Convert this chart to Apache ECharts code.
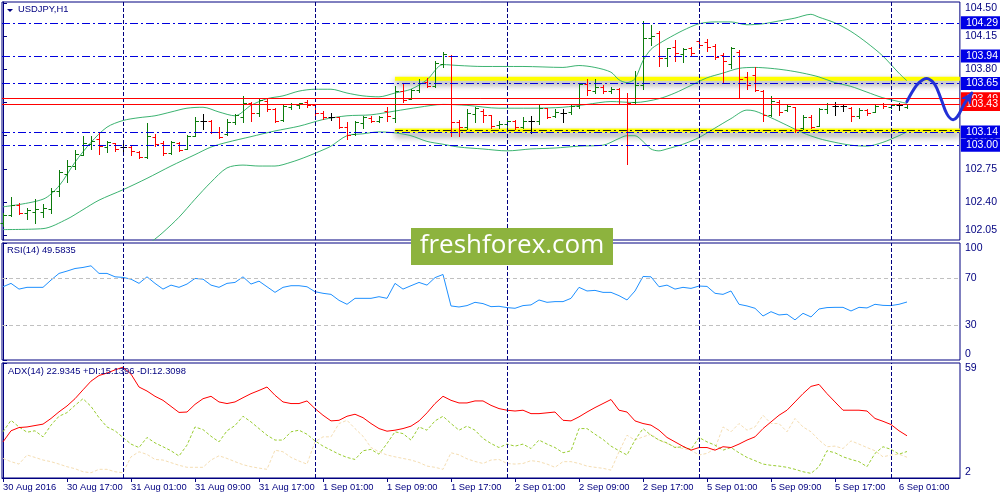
<!DOCTYPE html>
<html>
<head>
<meta charset="utf-8">
<script src="https://cdn.jsdelivr.net/npm/echarts@6/dist/echarts.min.js"></script>
<style>
html, body { margin: 0; padding: 0; background: #fff; }
#chart { width: 1000px; height: 500px; }
</style>
</head>
<body>
<div id="chart"></div>
<script>
// USDJPY H1, 30 Aug 2016 09:00 .. 6 Sep 2016 02:00 (one value per hourly bar)
const opens = [
	102.18, 102.26, 102.37, 102.28, 102.30, 102.30, 102.33, 102.52, 102.70, 102.78,
	102.90, 103.01, 103.07, 102.98, 103.02, 102.98, 102.98, 102.93, 102.88, 103.09,
	103.02, 102.92, 103.02, 102.96, 103.10, 103.26, 103.25, 103.14, 103.12, 103.24,
	103.30, 103.45, 103.34, 103.47, 103.38, 103.27, 103.40, 103.42, 103.46, 103.42,
	103.34, 103.30, 103.30, 103.19, 103.12, 103.23, 103.29, 103.26, 103.36, 103.29,
	103.57, 103.49, 103.58, 103.67, 103.62, 103.86, 103.94, 103.24, 103.19, 103.33,
	103.36, 103.32, 103.21, 103.22, 103.25, 103.19, 103.25, 103.25, 103.39, 103.31,
	103.34, 103.35, 103.41, 103.65, 103.57, 103.61, 103.57, 103.59, 103.50, 103.46,
	103.63, 104.13, 104.18, 103.92, 104.04, 103.96, 104.02, 104.10, 104.09, 104.05,
	103.95, 103.86, 103.98, 103.72, 103.74, 103.57, 103.32, 103.46, 103.37, 103.40,
	103.18, 103.30, 103.20, 103.38, 103.41, 103.41, 103.39, 103.31, 103.37, 103.35,
	103.43, 103.40, 103.42, 103.40
]
const highs = [
	102.29, 102.45, 102.39, 102.34, 102.43, 102.38, 102.55, 102.74, 102.84, 102.95,
	103.10, 103.10, 103.13, 103.04, 103.02, 103.03, 103.00, 102.94, 103.23, 103.12,
	103.04, 103.04, 103.03, 103.11, 103.30, 103.33, 103.27, 103.19, 103.28, 103.33,
	103.52, 103.46, 103.49, 103.49, 103.39, 103.42, 103.44, 103.45, 103.48, 103.42,
	103.36, 103.34, 103.30, 103.24, 103.25, 103.31, 103.31, 103.31, 103.40, 103.62,
	103.64, 103.59, 103.70, 103.71, 103.89, 103.98, 103.95, 103.27, 103.38, 103.40,
	103.38, 103.32, 103.25, 103.27, 103.27, 103.30, 103.31, 103.43, 103.39, 103.38,
	103.38, 103.42, 103.66, 103.70, 103.70, 103.63, 103.61, 103.60, 103.55, 103.78,
	104.31, 104.27, 104.20, 104.03, 104.11, 104.03, 104.04, 104.13, 104.12, 104.07,
	103.97, 104.04, 104.00, 103.77, 103.82, 103.58, 103.52, 103.48, 103.43, 103.40,
	103.32, 103.32, 103.39, 103.45, 103.46, 103.43, 103.40, 103.39, 103.38, 103.42,
	103.45, 103.43, 103.44, 103.43
]
const lows = [
	102.15, 102.25, 102.27, 102.22, 102.18, 102.24, 102.29, 102.46, 102.61, 102.75,
	102.90, 102.96, 102.91, 102.93, 102.94, 102.94, 102.90, 102.86, 102.86, 102.99,
	102.90, 102.91, 102.94, 102.96, 103.10, 103.17, 103.13, 103.08, 103.11, 103.22,
	103.24, 103.25, 103.31, 103.36, 103.24, 103.26, 103.38, 103.39, 103.40, 103.30,
	103.28, 103.27, 103.18, 103.06, 103.11, 103.18, 103.24, 103.24, 103.25, 103.24,
	103.46, 103.49, 103.56, 103.61, 103.61, 103.82, 103.10, 103.10, 103.17, 103.24,
	103.24, 103.18, 103.18, 103.17, 103.17, 103.18, 103.13, 103.22, 103.29, 103.30,
	103.24, 103.33, 103.39, 103.53, 103.55, 103.55, 103.55, 103.44, 102.80, 103.45,
	103.59, 104.06, 103.83, 103.83, 103.89, 103.88, 103.94, 104.03, 103.99, 103.91,
	103.67, 103.81, 103.51, 103.59, 103.57, 103.26, 103.31, 103.32, 103.36, 103.14,
	103.17, 103.18, 103.20, 103.34, 103.32, 103.36, 103.26, 103.29, 103.32, 103.35,
	103.39, 103.39, 103.37, 103.39
]
const closes = [
	102.26, 102.37, 102.28, 102.32, 102.33, 102.34, 102.52, 102.72, 102.78, 102.91,
	103.02, 103.04, 102.99, 103.03, 102.96, 102.98, 102.94, 102.88, 103.10, 103.01,
	102.92, 103.03, 102.95, 103.10, 103.25, 103.26, 103.14, 103.09, 103.24, 103.32,
	103.45, 103.34, 103.48, 103.38, 103.26, 103.41, 103.43, 103.45, 103.42, 103.34,
	103.30, 103.30, 103.19, 103.11, 103.24, 103.30, 103.25, 103.30, 103.31, 103.57,
	103.48, 103.58, 103.66, 103.62, 103.87, 103.96, 103.24, 103.19, 103.34, 103.39,
	103.32, 103.20, 103.22, 103.25, 103.19, 103.26, 103.25, 103.39, 103.30, 103.35,
	103.34, 103.41, 103.65, 103.58, 103.61, 103.57, 103.59, 103.50, 103.45, 103.63,
	104.13, 104.15, 103.92, 104.02, 103.97, 104.01, 103.97, 104.06, 104.04, 103.93,
	103.89, 104.02, 103.70, 103.63, 103.58, 103.32, 103.47, 103.35, 103.41, 103.16,
	103.30, 103.19, 103.38, 103.43, 103.41, 103.41, 103.31, 103.37, 103.34, 103.41,
	103.41, 103.42, 103.42, 103.43
]

// Bollinger bands: [bar, price]
const bbUpper = [
	[0, 102.35], [5, 102.43], [7, 102.57], [9, 102.82], [11, 103.03], [13, 103.19], [15, 103.26],
	[17, 103.29], [19, 103.31], [21, 103.35], [23, 103.39], [25, 103.40], [27, 103.35], [29, 103.31],
	[31, 103.42], [33, 103.49], [35, 103.52], [37, 103.57], [39, 103.59], [41, 103.59], [43, 103.55],
	[45, 103.52], [47, 103.51], [49, 103.55], [51, 103.59], [53, 103.69], [55, 103.85], [57, 103.84],
	[60, 103.83], [65, 103.83], [70, 103.82], [72, 103.84], [74, 103.82], [76, 103.77], [77, 103.69],
	[78, 103.66], [79, 103.70], [80, 103.89], [81, 104.01], [82, 104.07], [83, 104.12], [85, 104.21],
	[87, 104.28], [89, 104.30], [91, 104.30], [93, 104.27], [95, 104.28], [97, 104.31], [99, 104.34],
	[101, 104.38], [102, 104.35], [104, 104.29], [106, 104.20], [108, 104.08], [110, 103.94],
	[112, 103.76], [113, 103.68]
]
const bbMiddle = [
	[0, 102.11], [5, 102.12], [8, 102.22], [10, 102.32], [12, 102.42], [15, 102.53], [18, 102.65],
	[21, 102.78], [24, 102.90], [26, 102.98], [28, 103.03], [31, 103.09], [34, 103.15], [37, 103.20],
	[40, 103.27], [43, 103.31], [46, 103.32], [49, 103.36], [52, 103.40], [55, 103.43], [58, 103.42],
	[62, 103.39], [66, 103.39], [70, 103.40], [73, 103.43], [76, 103.46], [79, 103.45], [82, 103.49],
	[84, 103.55], [86, 103.63], [88, 103.71], [90, 103.76], [92, 103.81], [94, 103.82], [96, 103.81],
	[98, 103.79], [100, 103.76], [102, 103.72], [104, 103.66], [106, 103.62], [108, 103.56],
	[110, 103.50], [112, 103.46], [113, 103.44]
]
const bbLower = [
	[17, 101.88], [19, 102.01], [20, 102.08], [22, 102.24], [24, 102.43], [26, 102.61], [28, 102.76],
	[30, 102.79], [32, 102.78], [34, 102.78], [36, 102.82], [38, 102.88], [40, 102.95], [41, 102.99],
	[43, 103.10], [45, 103.12], [47, 103.14], [49, 103.13], [51, 103.10], [53, 103.04], [55, 103.01],
	[57, 102.98], [60, 102.96], [63, 102.94], [66, 102.96], [69, 102.97], [72, 102.99], [75, 103.00],
	[77, 103.07], [78, 103.10], [79, 103.10], [80, 103.04], [81, 102.96], [82, 102.94], [83, 102.96],
	[85, 103.01], [87, 103.08], [89, 103.18], [91, 103.28], [93, 103.37], [94, 103.36], [96, 103.29],
	[98, 103.21], [100, 103.13], [102, 103.07], [104, 103.03], [106, 103.00], [108, 102.99],
	[110, 103.03], [112, 103.10], [113, 103.14]
]

const rsi = [
	62.6, 65.5, 60.6, 62.1, 62.1, 62.1, 68.3, 74.0, 76.0, 78.2,
	79.1, 80.5, 74.0, 74.0, 71.1, 70.6, 69.1, 65.5, 71.1, 65.5,
	60.6, 64.0, 62.1, 64.9, 69.7, 69.1, 64.0, 62.1, 65.5, 66.3,
	71.1, 64.9, 67.4, 62.6, 57.8, 62.1, 63.5, 63.5, 62.6, 58.4,
	57.0, 56.1, 51.0, 47.6, 52.7, 52.7, 52.7, 54.1, 52.7, 65.5,
	60.6, 63.5, 66.3, 64.0, 70.4, 73.1, 46.2, 45.3, 46.5, 49.3,
	48.2, 45.6, 45.9, 44.8, 44.2, 46.5, 47.1, 51.3, 49.3, 49.9,
	49.9, 52.7, 62.1, 59.0, 59.5, 57.8, 57.8, 55.0, 51.3, 59.0,
	71.4, 71.1, 62.6, 64.0, 60.6, 62.1, 61.2, 63.2, 62.9, 57.0,
	56.1, 59.0, 47.6, 46.2, 44.2, 37.6, 41.3, 38.5, 39.1, 34.3,
	39.9, 36.8, 43.6, 44.8, 45.0, 45.0, 41.9, 45.0, 44.5, 47.6,
	46.7, 46.5, 47.6, 49.58
]
const adx = [
	19.9, 25.4, 27.0, 27.3, 28.0, 28.7, 31.5, 34.8, 37.7, 41.3,
	45.7, 50.0, 52.8, 54.0, 55.6, 56.9, 53.5, 47.1, 45.1, 42.5,
	40.5, 37.5, 34.5, 34.7, 38.5, 41.3, 42.5, 39.7, 38.9, 39.7,
	41.8, 43.8, 45.4, 47.1, 43.0, 39.7, 38.9, 38.9, 40.2, 36.4,
	33.1, 30.3, 30.6, 32.6, 33.6, 31.9, 29.0, 26.5, 25.2, 25.7,
	26.5, 27.7, 30.3, 34.3, 38.9, 42.5, 40.5, 39.2, 39.2, 40.2,
	40.2, 38.0, 36.4, 35.6, 35.2, 35.6, 33.9, 33.9, 34.3, 34.7,
	30.6, 30.3, 32.3, 34.7, 36.9, 38.9, 40.9, 35.6, 34.7, 30.3,
	29.0, 28.2, 25.7, 22.1, 19.9, 17.7, 15.8, 17.1, 17.1, 15.8,
	17.5, 17.1, 18.8, 20.8, 22.4, 26.5, 29.8, 33.1, 35.6, 39.7,
	43.8, 47.4, 48.4, 43.8, 39.7, 35.6, 35.6, 35.6, 35.2, 31.5,
	30.1, 28.5, 25.4, 22.93
]
const plusDi = [
	24.9, 30.6, 27.3, 24.7, 25.4, 22.4, 28.2, 32.6, 34.4, 38.0,
	41.3, 37.5, 31.9, 27.3, 25.4, 22.1, 18.8, 17.1, 22.1, 19.4,
	17.5, 15.5, 12.9, 18.3, 27.3, 26.0, 22.7, 19.9, 25.4, 28.0,
	32.6, 29.8, 26.5, 23.2, 20.8, 20.8, 24.9, 25.7, 23.7, 20.4,
	17.8, 15.8, 13.8, 12.2, 11.2, 15.5, 16.2, 13.8, 19.1, 24.9,
	24.0, 20.8, 27.3, 25.7, 30.3, 32.6, 29.0, 25.7, 27.7, 25.7,
	21.6, 19.1, 17.1, 18.8, 17.8, 18.8, 16.6, 20.8, 18.8, 17.1,
	14.5, 15.5, 26.5, 26.5, 23.7, 21.1, 17.8, 15.5, 13.4, 20.8,
	26.5, 23.2, 20.8, 19.4, 17.1, 17.5, 16.2, 22.1, 19.9, 18.3,
	15.8, 17.1, 14.5, 12.2, 10.6, 8.9, 8.3, 7.9, 7.3, 6.3,
	5.1, 4.3, 7.6, 15.5, 14.5, 12.5, 11.2, 10.1, 7.6, 14.2,
	17.5, 16.2, 13.8, 15.14
]
const minusDi = [
	11.7, 10.1, 8.9, 13.4, 12.2, 10.9, 10.1, 8.9, 7.6, 6.6,
	5.1, 4.6, 6.3, 6.3, 5.1, 4.6, 12.5, 15.0, 13.7, 11.2,
	10.9, 9.6, 8.3, 7.3, 7.3, 7.3, 10.9, 13.0, 11.7, 10.1,
	8.6, 7.6, 6.9, 6.3, 15.8, 15.0, 12.2, 10.4, 8.9, 19.9,
	22.4, 22.4, 29.0, 30.6, 26.5, 22.7, 17.1, 15.0, 13.4, 12.5,
	11.7, 10.9, 9.7, 7.9, 7.3, 6.3, 14.5, 13.5, 11.5, 10.2,
	9.2, 10.9, 11.2, 9.2, 8.9, 9.2, 10.6, 10.1, 8.9, 7.3,
	10.1, 10.1, 9.2, 7.9, 7.3, 6.8, 5.9, 15.0, 23.2, 20.8,
	22.4, 23.7, 20.8, 19.1, 17.5, 16.6, 15.8, 13.4, 14.2, 16.6,
	27.3, 24.9, 29.0, 25.7, 27.3, 33.1, 29.0, 29.0, 24.9, 31.5,
	27.3, 24.9, 20.8, 17.5, 17.8, 16.6, 20.4, 18.8, 17.1, 15.5,
	12.5, 13.4, 13.8, 12.31
]

const timeLabels = [
	'30 Aug 2016', '30 Aug 17:00', '31 Aug 01:00', '31 Aug 09:00', '31 Aug 17:00',
	'1 Sep 01:00', '1 Sep 09:00', '1 Sep 17:00', '2 Sep 01:00', '2 Sep 09:00',
	'2 Sep 17:00', '5 Sep 01:00', '5 Sep 09:00', '5 Sep 17:00', '6 Sep 01:00'
]
const labelBars = [0, 8, 16, 24, 32, 40, 48, 56, 64, 72, 80, 88, 96, 104, 112]
const daySeparators = [15, 39, 63, 87, 111]

const priceTicks = [102.05, 102.40, 102.75, 103.10, 103.45, 103.80, 104.15, 104.50]
const rsiTicks = [0, 30, 70, 100]
const rsiLevels = [70, 30]
const adxTicks = [2, 59]

const blueLevels = [104.29, 103.94, 103.65, 103.14, 103.00]
const redLevels = [103.49, 103.43]
const yellowLevels = [103.70, 103.155]
const yellowFromBar = 49

// hand drawn forecast: [bar, price]
const forecastPath = [
	[113.0, 103.46], [114.2, 103.63], [115.0, 103.69], [115.7, 103.70], [116.5, 103.64],
	[117.3, 103.48], [118.0, 103.33], [118.7, 103.27], [119.3, 103.30], [120.2, 103.44],
	[121.1, 103.55]
]

const NAVY = '#000080'
const FONT = "'Liberation Sans', Arial, sans-serif"
const FS = 9.4
const UP = '#0b7a0b'
const DOWN = '#ff0000'
const FLAT = '#000000'
const BAND = '#3cb371'
const PEN = '#2230d6'
const X_MIN = -0.125
const X_MAX = 119.625

chart = () => {
	var myChart = echarts.init(document.getElementById('chart'))

	const ohlcData = opens.map((o, i) => [i, o, closes[i], lows[i], highs[i]])
	const idx = (arr) => arr.map((v, i) => [i, v])

	const renderBar = (params, api) => {
		const i = api.value(0)
		const o = api.value(1)
		const c = api.value(2)
		const color = c > o ? UP : c < o ? DOWN : FLAT
		const top = api.coord([i, api.value(4)])
		const bot = api.coord([i, api.value(3)])
		const po = api.coord([i, o])
		const pc = api.coord([i, c])
		const x = Math.round(top[0]) + 0.5
		const yo = Math.round(po[1]) + 0.5
		const yc = Math.round(pc[1]) + 0.5
		const st = { stroke: color, lineWidth: 1 }
		return {
			type: 'group',
			children: [
				{ type: 'line', shape: { x1: x, y1: Math.round(top[1]), x2: x, y2: Math.round(bot[1]) + 1 }, style: st },
				{ type: 'line', shape: { x1: x - 3, y1: yo, x2: x, y2: yo }, style: st },
				{ type: 'line', shape: { x1: x, y1: yc, x2: x + 3.5, y2: yc }, style: st },
			],
		}
	}

	const separatorLine = {
		silent: true,
		symbol: ['none', 'none'],
		label: { show: false },
		lineStyle: { color: NAVY, type: [4, 2], width: 1 },
		emphasis: { disabled: true },
		data: daySeparators.map((b) => ({ xAxis: b })),
	}

	const levelLabel = (bg) => ({
		show: true,
		position: 'end',
		distance: 1,
		formatter: (p) => p.value.toFixed(2),
		color: '#fff',
		backgroundColor: bg,
		padding: [1, 5, 0, 5],
		fontSize: 10.5,
		lineHeight: 12,
		fontFamily: FONT,
	})

	const hiddenX = (g) => ({ type: 'value', gridIndex: g, min: X_MIN, max: X_MAX, show: false })

	const rightY = (g, min, max, ticks, fmt) => ({
		type: 'value',
		gridIndex: g,
		position: 'right',
		min: min,
		max: max,
		axisLine: { show: true, lineStyle: { color: NAVY } },
		axisTick: { show: true, customValues: ticks, length: 4, lineStyle: { color: NAVY } },
		axisLabel: {
			customValues: ticks,
			formatter: fmt,
			color: NAVY,
			fontSize: 10.5,
			fontFamily: FONT,
			margin: 5,
			verticalAlignMinLabel: 'bottom',
			verticalAlignMaxLabel: 'top',
		},
		splitLine: { show: false },
	})

	const gridBox = (top, height) => ({
		left: 2, right: 40, top: top, height: height,
		show: true, borderColor: NAVY, borderWidth: 1,
	})

	const option = {
		animation: false,
		backgroundColor: '#ffffff',
		grid: [gridBox(2, 238), gridBox(243, 117), gridBox(363, 115)],
		xAxis: [
			hiddenX(0),
			hiddenX(1),
			{
				type: 'value',
				gridIndex: 2,
				min: X_MIN,
				max: X_MAX,
				axisLine: { show: true, lineStyle: { color: NAVY } },
				axisTick: { show: true, customValues: labelBars, length: 4, lineStyle: { color: NAVY } },
				axisLabel: {
					customValues: labelBars,
					formatter: (v) => timeLabels[labelBars.indexOf(v)],
					align: 'left',
					color: NAVY,
					fontSize: FS,
					fontFamily: FONT,
					margin: 5,
				},
				splitLine: { show: false },
			},
		],
		yAxis: [
			rightY(0, 102.0, 104.51, priceTicks, (v) => v.toFixed(2)),
			rightY(1, 0, 100, rsiTicks, (v) => String(v)),
			rightY(2, 2, 59, adxTicks, (v) => String(v)),
		],
		graphic: [
			{ id: 'tri', type: 'polygon', shape: { points: [[7, 9], [13, 9], [10, 12]] }, style: { fill: NAVY } },
			{ id: 'sym', type: 'text', left: 18, top: 5, style: { text: 'USDJPY,H1', fill: NAVY, font: FS + 'px ' + FONT } },
			{ id: 'rsiT', type: 'text', left: 7, top: 246, style: { text: 'RSI(14) 49.5835', fill: NAVY, font: FS + 'px ' + FONT } },
			{ id: 'adxT', type: 'text', left: 8, top: 367, z: 100, style: { text: 'ADX(14) 22.9345 +DI:15.1396 -DI:12.3098', fill: NAVY, font: FS + 'px ' + FONT } },
			{ id: 'wmBox', type: 'rect', z: 100, shape: { x: 411, y: 228, width: 202, height: 37 }, style: { fill: '#8db33e' } },
			{ id: 'wmText', type: 'text', z: 101, x: 512, y: 246, style: { text: 'freshforex.com', fill: '#ffffff', font: '26px "Open Sans"', align: 'center', verticalAlign: 'middle' } },
		],
		series: [
			...yellowLevels.map((lvl) => ({
				type: 'line',
				xAxisIndex: 0,
				yAxisIndex: 0,
				z: 1,
				symbol: 'none',
				silent: true,
				lineStyle: { color: '#ffff00', width: 4, shadowColor: 'rgba(0,0,0,0.45)', shadowBlur: 6, shadowOffsetY: 4 },
				data: [[yellowFromBar, lvl], [X_MAX, lvl]],
			})),
			{
				name: 'BB upper',
				type: 'line',
				xAxisIndex: 0,
				yAxisIndex: 0,
				z: 2,
				smooth: 0.3,
				symbol: 'none',
				silent: true,
				lineStyle: { color: BAND, width: 1 },
				data: bbUpper,
				markLine: {
					silent: true,
					symbol: ['none', 'none'],
					lineStyle: { color: '#0000dd', type: [8, 3, 2, 3], width: 1 },
					label: levelLabel('#0000e6'),
					emphasis: { disabled: true },
					data: blueLevels.map((v) => ({ yAxis: v })),
				},
			},
			{
				name: 'BB middle',
				type: 'line',
				xAxisIndex: 0,
				yAxisIndex: 0,
				z: 2,
				smooth: 0.3,
				symbol: 'none',
				silent: true,
				lineStyle: { color: BAND, width: 1 },
				data: bbMiddle,
				markLine: separatorLine,
			},
			{
				name: 'BB lower',
				type: 'line',
				xAxisIndex: 0,
				yAxisIndex: 0,
				z: 2,
				smooth: 0.3,
				symbol: 'none',
				silent: true,
				lineStyle: { color: BAND, width: 1 },
				data: bbLower,
				markLine: {
					silent: true,
					symbol: ['none', 'none'],
					lineStyle: { color: '#ff0000', type: 'solid', width: 1 },
					label: levelLabel('#ff0000'),
					emphasis: { disabled: true },
					data: redLevels.map((v) => ({ yAxis: v })),
				},
			},
			{
				// dark dash-dot drawn over the lower yellow zone
				type: 'line',
				xAxisIndex: 0,
				yAxisIndex: 0,
				z: 3,
				symbol: 'none',
				silent: true,
				lineStyle: { color: '#111111', width: 1, type: [8, 3, 2, 3] },
				data: [[yellowFromBar, yellowLevels[1]], [X_MAX, yellowLevels[1]]],
			},
			{
				name: 'USDJPY',
				type: 'custom',
				xAxisIndex: 0,
				yAxisIndex: 0,
				z: 4,
				silent: true,
				renderItem: renderBar,
				encode: { x: 0, y: [1, 2, 3, 4] },
				data: ohlcData,
			},
			{
				name: 'RSI',
				type: 'line',
				xAxisIndex: 1,
				yAxisIndex: 1,
				symbol: 'none',
				silent: true,
				lineStyle: { color: '#1e90ff', width: 1 },
				data: idx(rsi),
				markLine: {
					silent: true,
					symbol: ['none', 'none'],
					label: { show: false },
					lineStyle: { color: '#c0c0c0', type: [4, 3], width: 1 },
					emphasis: { disabled: true },
					data: rsiLevels.map((v) => ({ yAxis: v })).concat(daySeparators.map((b) => ({ xAxis: b, lineStyle: { color: NAVY, type: [4, 2] } }))),
				},
			},
			{
				name: '-DI',
				type: 'line',
				xAxisIndex: 2,
				yAxisIndex: 2,
				symbol: 'none',
				silent: true,
				lineStyle: { color: '#f5deb3', width: 1, type: [3, 2] },
				data: idx(minusDi),
			},
			{
				name: '+DI',
				type: 'line',
				xAxisIndex: 2,
				yAxisIndex: 2,
				symbol: 'none',
				silent: true,
				lineStyle: { color: '#9acd32', width: 1, type: [3, 2] },
				data: idx(plusDi),
			},
			{
				name: 'ADX',
				type: 'line',
				xAxisIndex: 2,
				yAxisIndex: 2,
				symbol: 'none',
				silent: true,
				lineStyle: { color: '#ff0000', width: 1 },
				data: idx(adx),
				markLine: separatorLine,
			},
		],
	}

	myChart.setOption(option)

	// The forecast pen stroke runs past the last bar onto the price scale. ECharts clamps
	// points to the axis range there, so take the bar/price scale from two in-range points
	// and carry it on linearly.
	const a = myChart.convertToPixel({ xAxisIndex: 0, yAxisIndex: 0 }, [0, 103])
	const b = myChart.convertToPixel({ xAxisIndex: 0, yAxisIndex: 0 }, [100, 104])
	const toPx = (p) => [a[0] + p[0] * (b[0] - a[0]) / 100, a[1] + (p[1] - 103) * (b[1] - a[1])]
	const pts = forecastPath.map(toPx)
	const tip = pts[pts.length - 1]
	const prev = pts[pts.length - 2]
	const ang = Math.atan2(tip[1] - prev[1], tip[0] - prev[0])
	const back = (len, side) => [
		tip[0] - len * Math.cos(ang) + side * Math.sin(ang),
		tip[1] - len * Math.sin(ang) - side * Math.cos(ang),
	]
	myChart.setOption({
		graphic: [
			{ id: 'pen', type: 'polyline', z: 200, shape: { points: pts, smooth: 0.4 }, style: { stroke: PEN, lineWidth: 3, fill: null, lineCap: 'round', lineJoin: 'round' } },
			{ id: 'penTip', type: 'polygon', z: 201, shape: { points: [tip, back(10, 5), back(7, 0), back(10, -5)] }, style: { fill: PEN, stroke: PEN, lineWidth: 1 } },
		],
	})
}

chart()
</script>
</body>
</html>
